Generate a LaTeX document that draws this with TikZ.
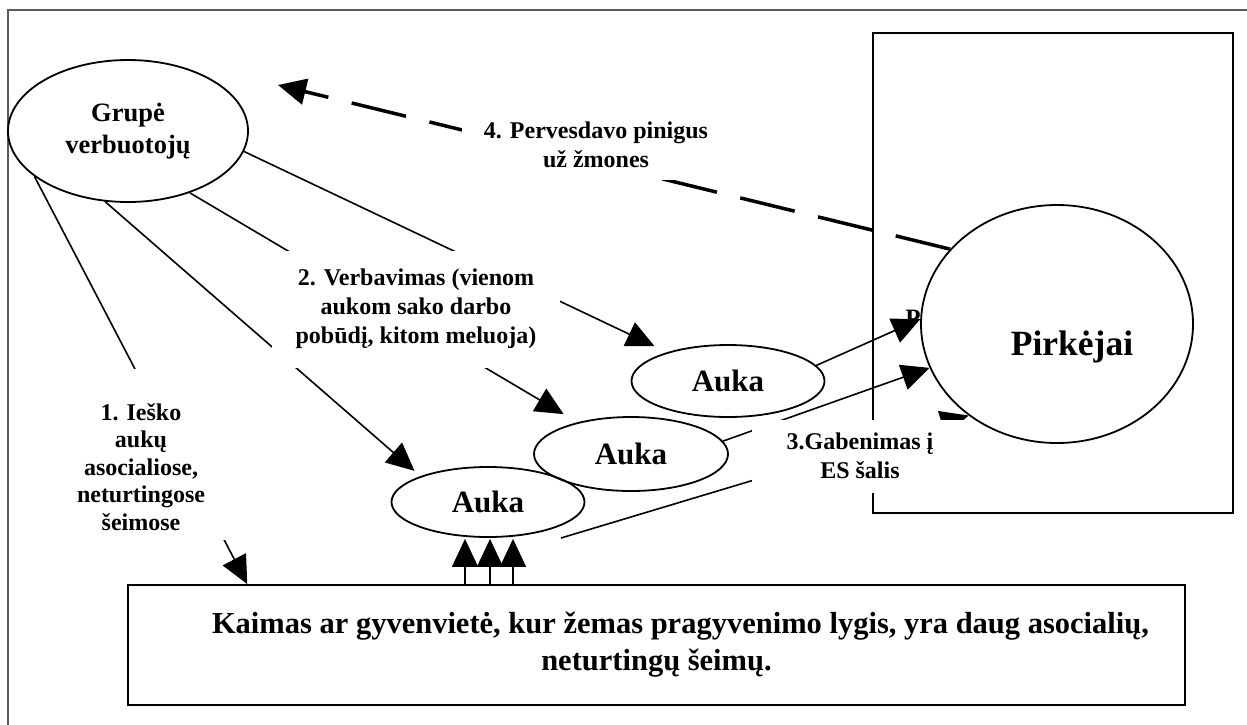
\documentclass[tikz,border=0pt]{standalone}
\usepackage{fontspec}
\setmainfont{Liberation Serif}
\usetikzlibrary{shapes.geometric,arrows.meta,calc,backgrounds}

\tikzset{
  aukas/.style={ellipse, draw, line width=1.8pt, inner sep=0pt, font=\bfseries\fontsize{31}{36}\selectfont},
  lbl/.style={fill=white, align=center, inner sep=0pt, font=\bfseries\fontsize{24}{29}\selectfont},
  arr/.style={line width=1.6pt, -{Triangle[length=28pt,width=26pt]}},
}

\begin{document}
\begin{tikzpicture}[x=1pt,y=-1pt]
\useasboundingbox (0,0) rectangle (1247,724);
%kairė
\node[aukas, fill=white, minimum width=240pt, minimum height=142pt, align=center, font=\bfseries\fontsize{26.5}{32}\selectfont] (grupe) at (128,131) {Grupė\\verbuotojų};
\node[aukas, minimum width=193pt, minimum height=72pt] (auka1) at (728,381) {Auka};
\node[aukas, minimum width=194pt, minimum height=74pt] (auka2) at (631,454) {Auka};
\node[aukas, minimum width=193pt, minimum height=70pt] (auka3) at (488,502) {Auka};
\node[draw, line width=1.8pt, fill=white, minimum width=1057pt, minimum height=120pt, align=center, font=\bfseries\fontsize{30.5}{37}\selectfont] (kaimas) at (656.5,645) {\hspace*{48pt}Kaimas ar gyvenvietė, kur žemas pragyvenimo lygis, yra daug asocialių,\\neturtingų šeimų.};
\coordinate (a3) at (561,538);
\coordinate (g4) at (278,85);
%užrašai
\node[lbl, minimum width=268pt, minimum height=70pt] (l4) at (596,145) {4. Pervesdavo pinigus\\už žmones};
\node[lbl, minimum width=288pt, minimum height=117pt] (l2) at (416,309) {2. Verbavimas (vienom\\aukom sako darbo\\pobūdį, kitom meluoja)};
\node[lbl, minimum width=173pt, minimum height=171pt, label={[lbl, font=\bfseries\fontsize{24}{27.5}\selectfont, yshift=-13pt]center:{1. Ieško\\aukų\\asocialiose,\\neturtingose\\šeimose}}] (l1) at (141,454) {};
\node[lbl, minimum width=216pt, minimum height=73pt] (l3) at (860,456) {3.Gabenimas į\\ES šalis};
%dešinė
\node[aukas, fill=white, minimum width=272pt, minimum height=238pt, label={[font=\bfseries\fontsize{35.5}{40}\selectfont, xshift=15pt, yshift=-23pt]center:Pirkėjai}] (pirk) at (1057,324) {};

\begin{scope}[on background layer]
\draw[black!65, line width=2pt] (8,740) -- (8,10) -- (1260,10);
\draw[line width=2.5pt] (873,33) rectangle (1233,513);
\node[font=\bfseries\fontsize{25}{29}\selectfont, inner sep=0pt] (P) at (913,318) {P};
\draw[arr] (grupe.206) -- ($(kaimas.north west)!0.1135!(kaimas.north east)$);
\draw[arr, shorten >=8pt] (grupe.252) -- (auka3.159);
\draw[arr, shorten >=16pt] (grupe.315) -- (auka2);
\draw[arr, shorten >=14pt] (grupe.350) -- (auka1);
\draw[arr] ([xshift=-23pt]auka3.south |- kaimas.north) -- ([xshift=-23pt,yshift=-1pt]auka3.south);
\draw[arr] ([xshift=2pt]auka3.south |- kaimas.north) -- ([xshift=2pt,yshift=-1pt]auka3.south);
\draw[arr] ([xshift=25pt]auka3.south |- kaimas.north) -- ([xshift=25pt,yshift=-1pt]auka3.south);
\draw[arr] (auka1.10) -- (pirk.178);
\draw[arr] (auka2.8) -- (pirk.199);
\draw[arr] (a3) -- (pirk.226);
\draw[arr, line width=3.5pt, dash pattern=on 56pt off 24pt] (pirk.145) -- (g4);
\end{scope}
\end{tikzpicture}
\end{document}
